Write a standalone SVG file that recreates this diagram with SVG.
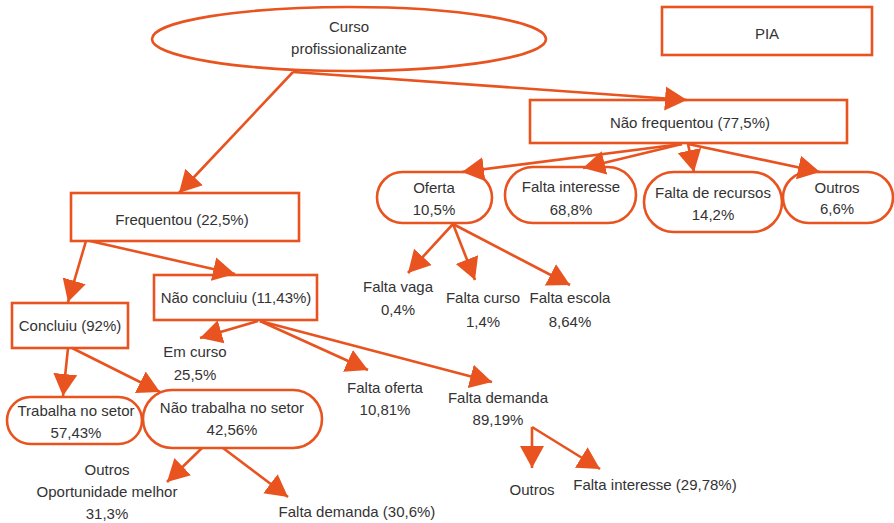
<svg xmlns="http://www.w3.org/2000/svg" width="894" height="523" viewBox="0 0 894 523">
<style>
.b{fill:#fff;stroke:#E8531F;stroke-width:2.6}
.t{font-family:"Liberation Sans",Arial,sans-serif;font-size:15px;fill:#333;text-anchor:middle}
.c line,.c path{stroke:#E8531F;stroke-width:2.6;fill:none;marker-end:url(#ah)}
</style>
<defs>
<marker id="ah" markerUnits="userSpaceOnUse" markerWidth="24" markerHeight="26" refX="22" refY="12" orient="auto" viewBox="0 0 24 24">
<path d="M0,0 L22,12 L0,24 z" fill="#E8531F"/>
</marker>
</defs>
<g id="curso"><ellipse class="b" cx="349" cy="39" rx="197" ry="32"/><text class="t" x="349" y="32">Curso</text><text class="t" x="349" y="54">profissionalizante</text></g>
<g id="pia"><rect class="b" x="662" y="7" width="210" height="48"/><text class="t" x="767" y="39">PIA</text></g>
<g id="naofreq"><rect class="b" x="530" y="100" width="317" height="43"/><text class="t" x="690" y="128">Não frequentou (77,5%)</text></g>
<g id="freq"><rect class="b" x="71" y="193" width="228" height="48"/><text class="t" x="182" y="225">Frequentou (22,5%)</text></g>
<g id="oferta"><rect class="b" x="377" y="172" width="115" height="51" rx="25.5"/><text class="t" x="434" y="193">Oferta</text><text class="t" x="434" y="215">10,5%</text></g>
<g id="faltainteresse"><rect class="b" x="505" y="167" width="131" height="56" rx="28"/><text class="t" x="571" y="192">Falta interesse</text><text class="t" x="571" y="215">68,8%</text></g>
<g id="faltarecursos"><rect class="b" x="644" y="172" width="138" height="60" rx="30"/><text class="t" x="713" y="198">Falta de recursos</text><text class="t" x="713" y="220">14,2%</text></g>
<g id="outros1"><rect class="b" x="783" y="172" width="110" height="51" rx="25.5"/><text class="t" x="837" y="193">Outros</text><text class="t" x="837" y="214">6,6%</text></g>
<g id="faltavaga"><text class="t" x="398" y="292">Falta vaga</text><text class="t" x="398" y="315">0,4%</text></g>
<g id="faltacurso"><text class="t" x="483" y="303">Falta curso</text><text class="t" x="483" y="327">1,4%</text></g>
<g id="faltaescola"><text class="t" x="570" y="303">Falta escola</text><text class="t" x="570" y="327">8,64%</text></g>
<g id="concluiu"><rect class="b" x="12" y="303" width="116" height="45"/><text class="t" x="70" y="331">Concluiu (92%)</text></g>
<g id="naoconcluiu"><rect class="b" x="154" y="275" width="163" height="45"/><text class="t" x="236" y="303">Não concluiu (11,43%)</text></g>
<g id="emcurso"><text class="t" x="195" y="357">Em curso</text><text class="t" x="195" y="380">25,5%</text></g>
<g id="faltaoferta"><text class="t" x="385" y="393">Falta oferta</text><text class="t" x="385" y="415">10,81%</text></g>
<g id="faltademanda"><text class="t" x="498" y="403">Falta demanda</text><text class="t" x="498" y="425">89,19%</text></g>
<g id="trabalha"><rect class="b" x="7" y="397" width="135" height="47" rx="23.5"/><text class="t" x="76" y="416">Trabalha no setor</text><text class="t" x="76" y="438">57,43%</text></g>
<g id="naotrabalha"><rect class="b" x="143" y="390" width="179" height="58" rx="29"/><text class="t" x="232" y="413">Não trabalha no setor</text><text class="t" x="232" y="435">42,56%</text></g>
<g id="outros2"><text class="t" x="107" y="475">Outros</text><text class="t" x="107" y="497">Oportunidade melhor</text><text class="t" x="107" y="519">31,3%</text></g>
<g id="faltademanda2"><text class="t" x="357" y="517">Falta demanda (30,6%)</text></g>
<g id="outros3"><text class="t" x="532" y="495">Outros</text></g>
<g id="faltainteresse2"><text class="t" x="655" y="490">Falta interesse (29,78%)</text></g>
<g class="c" id="connectors">
<line x1="293" y1="72" x2="179" y2="193"/>
<line x1="293" y1="72" x2="687" y2="100"/>
<line x1="682" y1="144" x2="462" y2="172"/>
<line x1="682" y1="144" x2="583" y2="168"/>
<line x1="688" y1="144" x2="694" y2="172"/>
<line x1="688" y1="144" x2="820" y2="172"/>
<line x1="453" y1="224" x2="408" y2="273"/>
<line x1="453" y1="224" x2="475" y2="280"/>
<line x1="453" y1="224" x2="570" y2="285"/>
<line x1="86" y1="241" x2="68" y2="302"/>
<line x1="90" y1="241" x2="235" y2="274"/>
<line x1="258" y1="321" x2="200" y2="338"/>
<line x1="260" y1="321" x2="368" y2="370"/>
<line x1="260" y1="321" x2="492" y2="382"/>
<line x1="68" y1="348" x2="63" y2="396"/>
<line x1="72" y1="348" x2="160" y2="392"/>
<line x1="202" y1="448" x2="167" y2="482"/>
<line x1="223" y1="448" x2="288" y2="497"/>
<path d="M532,427 L532,468"/>
<line x1="532" y1="427" x2="600" y2="469"/>
</g>
</svg>
